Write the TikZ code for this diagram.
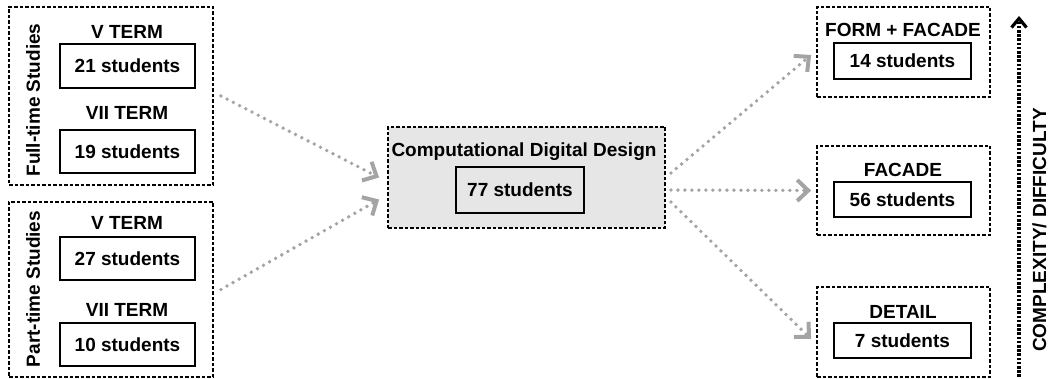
\documentclass[tikz,border=0pt]{standalone}
\usepackage{fontspec}
\setmainfont{Liberation Sans}
\usetikzlibrary{arrows.meta}
\definecolor{flowgray}{HTML}{A4A4A4}
\definecolor{fillgray}{HTML}{E6E6E6}
\begin{document}
\begin{tikzpicture}[x=1pt,y=-1pt,
  font=\fontsize{19}{22}\selectfont\bfseries,
  outerbox/.style={draw=black,line width=1.8pt,dash pattern=on 3.5pt off 2pt,rectangle,inner sep=0pt},
  innerbox/.style={draw=black,line width=2.6pt,rectangle,inner sep=0pt},
  lbl/.style={inner sep=0pt,anchor=center},
  flow/.style={draw=flowgray,line width=3.8pt,line cap=round,dash pattern=on 0pt off 7pt,
    -{Straight Barb[length=11pt,width=21pt,line width=4pt,line cap=butt]}},
  axis/.style={draw=black,line width=3.4pt,dash pattern=on 2.6pt off 1.6pt,
    -{Straight Barb[length=9pt,width=15pt,line width=3.2pt]}}]
\useasboundingbox (0,0) rectangle (1050,379);
% Full-time studies
\node[outerbox,minimum width=204pt,minimum height=178pt] (ft) at (111,96) {};
\node[lbl] (ftv) at (127,32) {V TERM};
\node[innerbox,minimum width=135pt,minimum height=44pt] (b21) at (127.5,66) {21 students};
\node[lbl] (ftvii) at (127,113) {VII TERM};
\node[innerbox,minimum width=135pt,minimum height=43pt] (b19) at (127.5,151.5) {19 students};
\node[lbl,rotate=90] (ftl) at (33,100) {Full-time Studies};
% Part-time studies
\node[outerbox,minimum width=204pt,minimum height=175pt] (pt) at (111,289.5) {};
\node[lbl] (ptv) at (127,223) {V TERM};
\node[innerbox,minimum width=135pt,minimum height=43pt] (b27) at (127.5,258.5) {27 students};
\node[lbl] (ptvii) at (127,310) {VII TERM};
\node[innerbox,minimum width=135pt,minimum height=43pt] (b10) at (127.5,344.5) {10 students};
\node[lbl,rotate=90] (ptl) at (33,289) {Part-time Studies};
% Center
\node[outerbox,fill=fillgray,minimum width=277pt,minimum height=101pt] (cc) at (526.5,177.5) {};
\node[lbl] (cct) at (524,152) {Computational Digital Design};
\node[innerbox,minimum width=128pt,minimum height=46pt] (b77) at (520,190) {77 students};
% Right boxes
\node[outerbox,minimum width=173pt,minimum height=90pt] (r1) at (903.5,52) {};
\node[lbl] (r1t) at (903,30) {FORM + FACADE};
\node[innerbox,minimum width=137pt,minimum height=36pt] (b14) at (902.5,61) {14 students};
\node[outerbox,minimum width=173pt,minimum height=89pt] (r2) at (903.5,190.5) {};
\node[lbl] (r2t) at (903,170) {FACADE};
\node[innerbox,minimum width=137pt,minimum height=35pt] (b56) at (902.5,199.5) {56 students};
\node[outerbox,minimum width=173pt,minimum height=90pt] (r3) at (903.5,332) {};
\node[lbl] (r3t) at (903,312) {DETAIL};
\node[innerbox,minimum width=137pt,minimum height=35pt] (b7) at (902.5,340.5) {7 students};
% Axis
\coordinate (axb) at (1019,377);
\coordinate (axt) at (1019,16);
\draw[axis] (axb) -- (axt);
\node[lbl,rotate=90] (axl) at (1039.5,230) {COMPLEXITY/ DIFFICULTY};
% Flow arrows
\coordinate (a1s) at ([xshift=7pt]ft.east);
\coordinate (a1e) at ([xshift=-8pt]cc.west);
\coordinate (a2s) at ([xshift=7pt]pt.east);
\coordinate (a2e) at ([xshift=-8pt,yshift=-22pt]cc.west);
\draw[flow] (a1s) -- (a1e);
\draw[flow] (a2s) -- (a2e);
\coordinate (c1s) at ([xshift=5pt,yshift=4.5pt]cc.east);
\coordinate (c2s) at ([xshift=5pt,yshift=-12.5pt]cc.east);
\coordinate (c3s) at ([xshift=5pt,yshift=-24.5pt]cc.east);
\coordinate (c1e) at ([xshift=-5pt,yshift=-3pt]r1.west);
\coordinate (c2e) at ([xshift=-5pt]r2.west);
\coordinate (c3e) at ([xshift=-5pt,yshift=-7pt]r3.west);
\draw[flow] (c1s) -- (c1e);
\draw[flow] (c2s) -- (c2e);
\draw[flow] (c3s) -- (c3e);
\end{tikzpicture}
\end{document}
